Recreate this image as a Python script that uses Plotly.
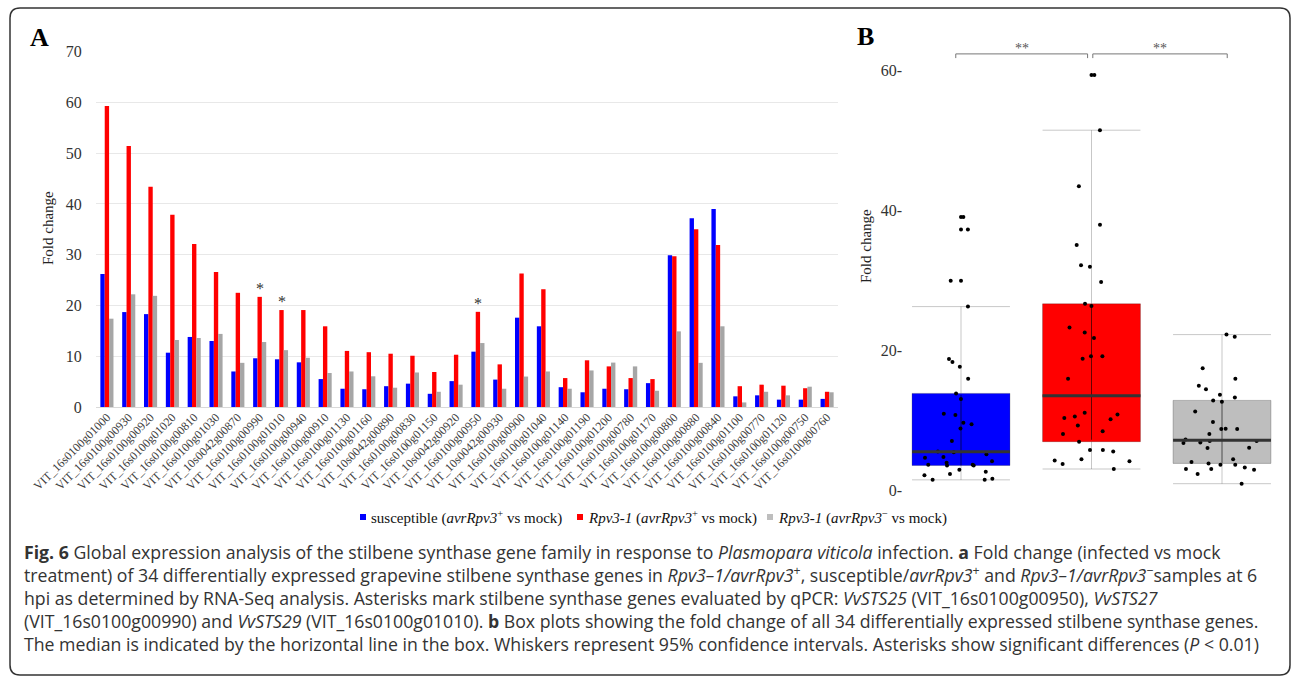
import numpy as np
import plotly.graph_objects as go

W, H = 1293, 679

# ---------------- data ----------------
genes = [
    "VIT_16s0100g01000", "VIT_16s0100g00930", "VIT_16s0100g00920", "VIT_16s0100g01020",
    "VIT_16s0100g00810", "VIT_16s0100g01030", "VIT_10s0042g00870", "VIT_16s0100g00990",
    "VIT_16s0100g01010", "VIT_16s0100g00940", "VIT_16s0100g00910", "VIT_16s0100g01130",
    "VIT_16s0100g01160", "VIT_10s0042g00890", "VIT_16s0100g00830", "VIT_16s0100g01150",
    "VIT_10s0042g00920", "VIT_16s0100g00950", "VIT_10s0042g00930", "VIT_16s0100g00900",
    "VIT_16s0100g01040", "VIT_16s0100g01140", "VIT_16s0100g01190", "VIT_16s0100g01200",
    "VIT_16s0100g00780", "VIT_16s0100g01170", "VIT_16s0100g00800", "VIT_16s0100g00880",
    "VIT_16s0100g00840", "VIT_16s0100g01100", "VIT_16s0100g00770", "VIT_16s0100g01120",
    "VIT_16s0100g00750", "VIT_16s0100g00760",
]
susceptible = [26.2, 18.7, 18.3, 10.7, 13.8, 13.0, 7.0, 9.6, 9.4, 8.8, 5.5, 3.6,
               3.5, 4.1, 4.6, 2.6, 5.1, 10.9, 5.4, 17.6, 15.9, 3.9, 2.9, 3.6,
               3.5, 4.7, 29.9, 37.2, 39.0, 2.1, 2.3, 1.45, 1.45, 1.6]
rpv_plus = [59.3, 51.4, 43.4, 37.9, 32.1, 26.6, 22.5, 21.7, 19.1, 19.1, 15.9, 11.05,
            10.8, 10.5, 10.1, 6.9, 10.3, 18.75, 8.4, 26.3, 23.2, 5.7, 9.2, 8.0,
            5.7, 5.5, 29.7, 35.0, 31.9, 4.1, 4.4, 4.2, 3.7, 3.0]
rpv_minus = [17.4, 22.2, 21.9, 13.2, 13.6, 14.4, 8.7, 12.8, 11.2, 9.7, 6.7, 7.0,
             6.05, 3.8, 6.8, 3.0, 4.4, 12.6, 3.6, 6.0, 7.0, 3.6, 7.2, 8.75,
             8.0, 3.2, 14.9, 8.7, 15.9, 0.9, 3.0, 2.3, 4.0, 2.9]
starred_genes = ["VIT_16s0100g00990", "VIT_16s0100g01010", "VIT_16s0100g00950"]
y_ticks_a = [0, 10, 20, 30, 40, 50, 60, 70]
y_ticks_b = [0, 20, 40, 60]

C_BLUE, C_RED, C_GRAY_BAR, C_GRAY_BOX = "#0000FF", "#FF0000", "#A6A6A6", "#BEBEBE"
SERIF = "Liberation Serif, Times New Roman, serif"
SANS = "Open Sans, Lato, sans-serif"


def px(x):
    return x / W


def py(y):
    return 1 - y / H


fig = go.Figure()

# ---------------- panel A: grouped bars ----------------
for name, vals, col in [("susceptible", susceptible, C_BLUE),
                        ("Rpv3-1 avr+", rpv_plus, C_RED),
                        ("Rpv3-1 avr-", rpv_minus, C_GRAY_BAR)]:
    fig.add_trace(go.Bar(x=genes, y=vals, name=name, marker_color=col,
                         marker_line_width=0, xaxis="x", yaxis="y", showlegend=False))

for g in starred_genes:
    i = genes.index(g)
    fig.add_annotation(x=g, y=rpv_plus[i], xref="x", yref="y", text="*",
                       showarrow=False, xanchor="center", yanchor="bottom", yshift=-2,
                       font=dict(family=SERIF, size=16, color="#333"))

# ---------------- panel B: box plots ----------------
groups = [("susceptible", susceptible, C_BLUE),
          ("Rpv3-1 avr+", rpv_plus, C_RED),
          ("Rpv3-1 avr-", rpv_minus, C_GRAY_BOX)]
BW = 0.75
for k, (name, vals, col) in enumerate(groups):
    fig.add_trace(go.Box(y=vals, x0=k, width=BW, fillcolor=col,
                         line=dict(color="rgba(0,0,0,0.22)", width=1),
                         whiskerwidth=1, quartilemethod="linear",
                         boxpoints="all", jitter=1.0, pointpos=0,
                         marker=dict(color="black", size=4),
                         xaxis="x2", yaxis="y2", showlegend=False, name=name))
    v = np.asarray(vals)
    q1, med, q3 = np.percentile(v, [25, 50, 75])
    iqr = q3 - q1
    out = v[(v > q3 + 1.5 * iqr) | (v < q1 - 1.5 * iqr)]
    fig.add_trace(go.Scatter(x=[k, k], y=[q1, q3], mode="lines",
                             line=dict(color="rgba(0,0,0,0.6)", width=1),
                             xaxis="x2", yaxis="y2", showlegend=False, hoverinfo="skip"))
    fig.add_trace(go.Scatter(x=[k - BW / 2, k + BW / 2], y=[med, med], mode="lines",
                             line=dict(color="#333333", width=3),
                             xaxis="x2", yaxis="y2", showlegend=False, hoverinfo="skip"))
    if len(out):
        fig.add_trace(go.Scatter(x=[k] * len(out), y=out, mode="markers",
                                 marker=dict(color="black", size=4),
                                 xaxis="x2", yaxis="y2", showlegend=False))

# significance brackets
for a, b in [(0, 1), (1, 2)]:
    x0 = a - 0.04 if a == 0 else a + 0.01
    x1 = b - 0.03 if b == 1 else b + 0.04
    yb, yt = 61.7, 62.3
    fig.add_shape(type="path", xref="x2", yref="y2",
                  path=f"M {x0} {yb} L {x0} {yt} L {x1} {yt} L {x1} {yb}",
                  line=dict(color="#777", width=1))
    fig.add_annotation(x=(x0 + x1) / 2, y=yt, xref="x2", yref="y2", text="**",
                       showarrow=False, xanchor="center", yanchor="bottom", yshift=-4,
                       font=dict(family=SERIF, size=14, color="#555"))

# ---------------- layout ----------------
fig.update_layout(
    width=W, height=H, margin=dict(l=0, r=0, t=0, b=0, autoexpand=False),
    paper_bgcolor="white", plot_bgcolor="white",
    barmode="group", bargap=0.4, bargroupgap=0,
    xaxis=dict(domain=[px(96), px(838)], type="category", tickangle=-45, automargin=False,
               showgrid=False, showline=False, ticks="",
               tickfont=dict(family=SERIF, size=12, color="#404040")),
    yaxis=dict(domain=[py(407), py(51.7)], range=[0, 70], tickvals=y_ticks_a, automargin=False,
               showgrid=True, gridcolor="#E8E8E8", gridwidth=1,
               zeroline=True, zerolinecolor="#D9D9D9", zerolinewidth=1,
               ticks="outside", ticklen=10, tickcolor="rgba(0,0,0,0)",
               tickfont=dict(family=SERIF, size=16, color="#333")),
    xaxis2=dict(domain=[px(903), px(1290)], anchor="y2", automargin=False,
                range=[(903 - 961) / 130.5, (1290 - 961) / 130.5],
                showticklabels=False, showgrid=False, zeroline=False, showline=False, ticks=""),
    yaxis2=dict(domain=[py(500), py(40)], anchor="x2", automargin=False,
                range=[(490 - 500) / 7.0, (490 - 40) / 7.0],
                tickvals=y_ticks_b, ticktext=[f"{t}-" for t in y_ticks_b],
                showgrid=False, zeroline=False, showline=False, ticks="",
                tickfont=dict(family=SERIF, size=16, color="#333")),
    hovermode=False,
)

# axis titles and panel letters
fig.add_annotation(x=px(48), y=py(228), xref="paper", yref="paper", text="Fold change",
                   textangle=-90, showarrow=False, xanchor="center", yanchor="middle",
                   font=dict(family=SERIF, size=15, color="#222"))
fig.add_annotation(x=px(866), y=py(246), xref="paper", yref="paper", text="Fold change",
                   textangle=-90, showarrow=False, xanchor="center", yanchor="middle",
                   font=dict(family=SERIF, size=15, color="#222"))
fig.add_annotation(x=px(39), y=py(37), xref="paper", yref="paper", text="<b>A</b>",
                   showarrow=False, xanchor="center", yanchor="middle",
                   font=dict(family=SERIF, size=26, color="black"))
fig.add_annotation(x=px(865), y=py(36), xref="paper", yref="paper", text="<b>B</b>",
                   showarrow=False, xanchor="center", yanchor="middle",
                   font=dict(family=SERIF, size=26, color="black"))

# legend (squares + text)
legend_items = [
    (360, C_BLUE, "susceptible (<i>avrRpv3</i><sup>+</sup> vs mock)"),
    (577, C_RED, "<i>Rpv3-1</i> (<i>avrRpv3</i><sup>+</sup> vs mock)"),
    (767, C_GRAY_BOX, "<i>Rpv3-1</i> (<i>avrRpv3</i><sup>−</sup> vs mock)"),
]
for lx, col, txt in legend_items:
    fig.add_shape(type="rect", xref="paper", yref="paper",
                  x0=px(lx), x1=px(lx + 6), y0=py(520), y1=py(514),
                  fillcolor=col, line_width=0)
    fig.add_annotation(x=px(lx + 9), y=py(517), xref="paper", yref="paper", text=txt,
                       xanchor="left", yanchor="middle", showarrow=False,
                       font=dict(family=SERIF, size=15, color="#111"))

# caption (one text block)
caption = [
    "<b>Fig. 6</b> Global expression analysis of the stilbene synthase gene family in response to "
    "<i>Plasmopara viticola</i> infection. <b>a</b> Fold change (infected vs mock",
    "treatment) of 34 differentially expressed grapevine stilbene synthase genes in "
    "<i>Rpv3–1/avrRpv3</i><sup>+</sup>, susceptible/<i>avrRpv3</i><sup>+</sup> and "
    "<i>Rpv3–1/avrRpv3</i><sup>−</sup>samples at 6",
    "hpi as determined by RNA-Seq analysis. Asterisks mark stilbene synthase genes evaluated by qPCR: "
    "<i>VvSTS25</i> (VIT_16s0100g00950), <i>VvSTS27</i>",
    "(VIT_16s0100g00990) and <i>VvSTS29</i> (VIT_16s0100g01010). <b>b</b> Box plots showing the fold "
    "change of all 34 differentially expressed stilbene synthase genes.",
    "The median is indicated by the horizontal line in the box. Whiskers represent 95% confidence "
    "intervals. Asterisks show significant differences (<i>P</i> &lt; 0.01)",
]
fig.add_annotation(x=px(22), y=py(598), xref="paper", yref="paper", text="<br>".join(caption),
                   xanchor="left", yanchor="middle", align="left", showarrow=False,
                   font=dict(family=SANS, size=17.7, color="#333"))

# rounded frame
r = 10
x0, x1, y0, y1 = 10, 1290, 8, 675
path = (f"M {px(x0 + r)} {py(y0)} L {px(x1 - r)} {py(y0)} Q {px(x1)} {py(y0)} {px(x1)} {py(y0 + r)} "
        f"L {px(x1)} {py(y1 - r)} Q {px(x1)} {py(y1)} {px(x1 - r)} {py(y1)} "
        f"L {px(x0 + r)} {py(y1)} Q {px(x0)} {py(y1)} {px(x0)} {py(y1 - r)} "
        f"L {px(x0)} {py(y0 + r)} Q {px(x0)} {py(y0)} {px(x0 + r)} {py(y0)} Z")
fig.add_shape(type="path", xref="paper", yref="paper", path=path,
              line=dict(color="#333", width=1.5))

fig.write_html("out.html")
